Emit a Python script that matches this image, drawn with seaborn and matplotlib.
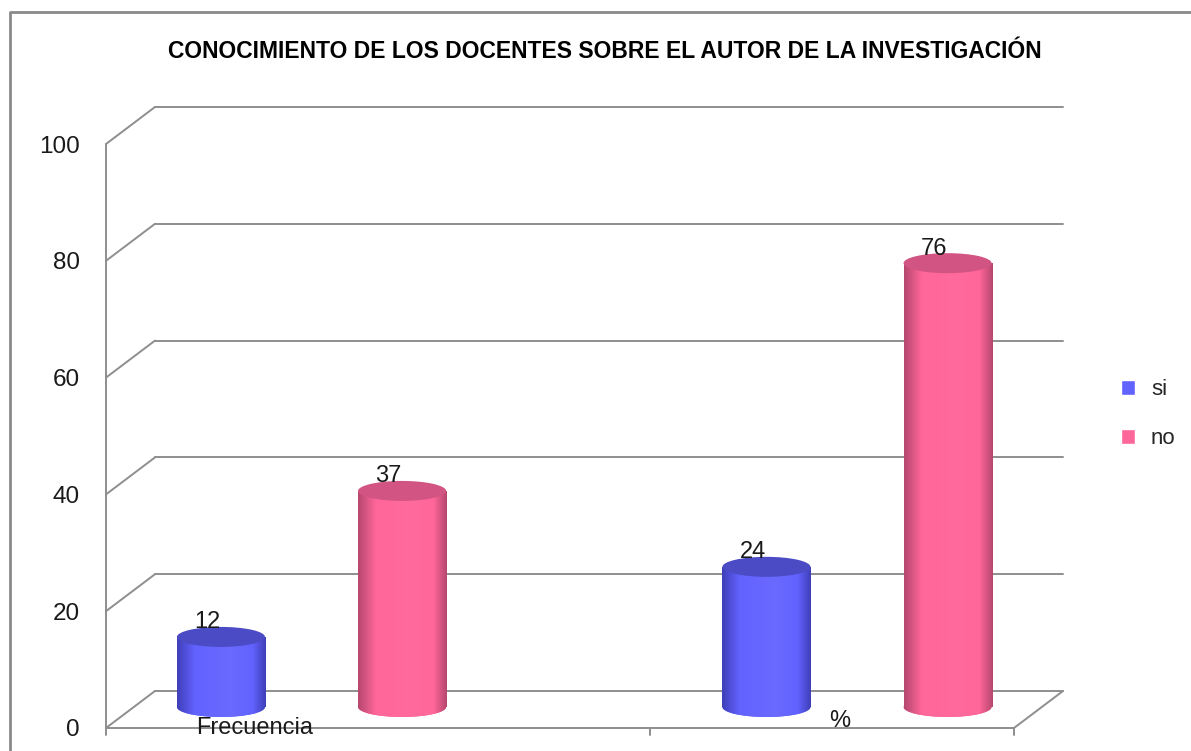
"""
Conocimiento de los docentes sobre el autor de la investigacion.
Column chart in the old Excel 3D cylinder look, drawn with seaborn.
"""

import numpy as np
import pandas as pd
import matplotlib
matplotlib.use("Agg")
import matplotlib.pyplot as plt
import seaborn as sns
from matplotlib.patches import Ellipse
from matplotlib.lines import Line2D
from matplotlib.colors import LinearSegmentedColormap

# data
categorias = ["Frecuencia", "%"]
respuestas = ["si", "no"]
valores_si = [12, 24]
valores_no = [37, 76]
y_ticks = [0, 20, 40, 60, 80, 100]
titulo = "CONOCIMIENTO DE LOS DOCENTES SOBRE EL AUTOR DE LA INVESTIGACIÓN"

# colours: flat legend colour, dark edge, light middle, cap
colores = {
    "si": dict(base="#6262FF", dark="#3F3FB8", light="#6A6AFF", cap="#4B4BC6"),
    "no": dict(base="#FF6699", dark="#B5476E", light="#FF6A9C", cap="#D25482"),
}

df = pd.DataFrame({
    "categoria": categorias * 2,
    "respuesta": ["si"] * len(valores_si) + ["no"] * len(valores_no),
    "valor": valores_si + valores_no,
})

sns.set_theme(style="white")
plt.rcParams["font.family"] = ["Liberation Sans", "DejaVu Sans"]

W, H = 1191, 751
fig = plt.figure(figsize=(W / 100, H / 100), dpi=100)

# axes box in pixels: front-left corner of the 3D frame to back-right top
left_px, right_px, floor_px, top_px = 106, 1063, 728, 108
ax = fig.add_axes([left_px / W, (H - floor_px) / H,
                   (right_px - left_px) / W, (floor_px - top_px) / H])

px_per_unit = 5.84
y_top = (floor_px - top_px) / px_per_unit
depth_x = 49 / (right_px - left_px)      # depth offset, axes fraction
depth_y = 37 / px_per_unit               # depth offset, data units
base = 21 / px_per_unit                  # cylinders stand in the middle of the floor
cap_h = 20 / px_per_unit                 # height of the elliptic caps

sns.barplot(data=df, x="categoria", y="valor", hue="respuesta",
            order=categorias, hue_order=respuestas,
            palette={k: v["base"] for k, v in colores.items()},
            width=0.664, gap=0.514, errorbar=None, legend=False,
            ax=ax, zorder=2)

# 3D frame: back wall, left wall and floor
gc, glw = "#8E8E8E", 1.4
yt = ax.get_yaxis_transform()
frame_kw = dict(color=gc, lw=glw, transform=yt, zorder=0, clip_on=False)
for t in y_ticks:
    ax.plot([depth_x, 1], [t + depth_y] * 2, **frame_kw)
    ax.plot([0, depth_x], [t, t + depth_y], **frame_kw)
tick_down = 7 / px_per_unit
ax.plot([0, 1 - depth_x], [0, 0], **frame_kw)
ax.plot([1 - depth_x, 1], [0, depth_y], **frame_kw)
ax.plot([0, 0], [-tick_down, y_ticks[-1]], **frame_kw)
floor_ticks = [(650 - left_px) / (right_px - left_px), 1 - depth_x]
for xf in floor_ticks:
    ax.plot([xf, xf], [-tick_down, 0], **frame_kw)

# cylinders
for cont, resp in zip(ax.containers, respuestas):
    c = colores[resp]
    cmap = LinearSegmentedColormap.from_list(
        resp, [(0, c["dark"]), (0.2, c["base"]), (0.6, c["light"]),
               (0.85, c["base"]), (1, c["dark"])])
    grad = np.linspace(0, 1, 256).reshape(1, -1)
    for p in cont:
        x0, w, h = p.get_x(), p.get_width(), p.get_height()
        cx = x0 + w / 2
        p.set_y(base)
        p.set_edgecolor("none")
        bottom = Ellipse((cx, base), w, cap_h, facecolor=c["base"],
                         edgecolor="none", zorder=1.9)
        ax.add_patch(bottom)
        for clip, z in [(bottom, 1.95), (p, 2.5)]:
            img = ax.imshow(grad, extent=(x0, x0 + w, base - cap_h, base + h),
                            aspect="auto", cmap=cmap, zorder=z,
                            interpolation="bilinear")
            img.set_clip_path(clip)
        ax.add_patch(Ellipse((cx, base + h), w, cap_h, facecolor=c["cap"],
                             edgecolor="none", zorder=3))
        ax.annotate(f"{h:.0f}", xy=(cx, base + h + cap_h / 2), xytext=(-10, -1),
                    textcoords="offset points", ha="center", va="baseline",
                    fontsize=17, color="#1a1a1a", zorder=5)

# category labels sit a little left of the group centre, on the floor edge
label_shift = [-0.105, -0.031]
label_y = [0, 7 / px_per_unit]
for i, cat in enumerate(categorias):
    ax.text(i + label_shift[i], label_y[i], cat, ha="center", va="center",
            fontsize=17, color="#1a1a1a", zorder=5)

ax.set_xlim((left_px - 311.5) / 545.5, (right_px - 311.5) / 545.5)
ax.set_ylim(0, y_top)
ax.set_xticks([])
ax.set_yticks(y_ticks)
ax.set_yticklabels([str(t) for t in y_ticks], fontsize=17.5, color="#1a1a1a")
ax.tick_params(axis="y", length=0, pad=19)
ax.set_xlabel("")
ax.set_ylabel("")
for s in ax.spines.values():
    s.set_visible(False)
ax.patch.set_alpha(0)

# legend
handles = [plt.Rectangle((0, 0), 1, 1, facecolor=colores[r]["base"]) for r in respuestas]
fig.legend(handles, respuestas, loc="center left",
           bbox_to_anchor=(1121 / W, 1 - 414 / H), frameon=False,
           fontsize=16, handlelength=0.65, handleheight=0.65,
           handletextpad=0.7, labelspacing=1.25, borderpad=0, borderaxespad=0)

# title
fig.text(605 / W, 1 - 51 / H, titulo, ha="center", va="center",
         fontsize=16.5, fontweight="bold", color="black",
         family=["Liberation Sans Narrow", "Liberation Sans", "DejaVu Sans"])

# outer frame of the chart area
fig.add_artist(Line2D([10 / W, 10 / W, 1], [0, 1 - 12 / H, 1 - 12 / H],
                      transform=fig.transFigure, color="#8A8A8A", lw=2))

fig.savefig("out.png", dpi=100)
